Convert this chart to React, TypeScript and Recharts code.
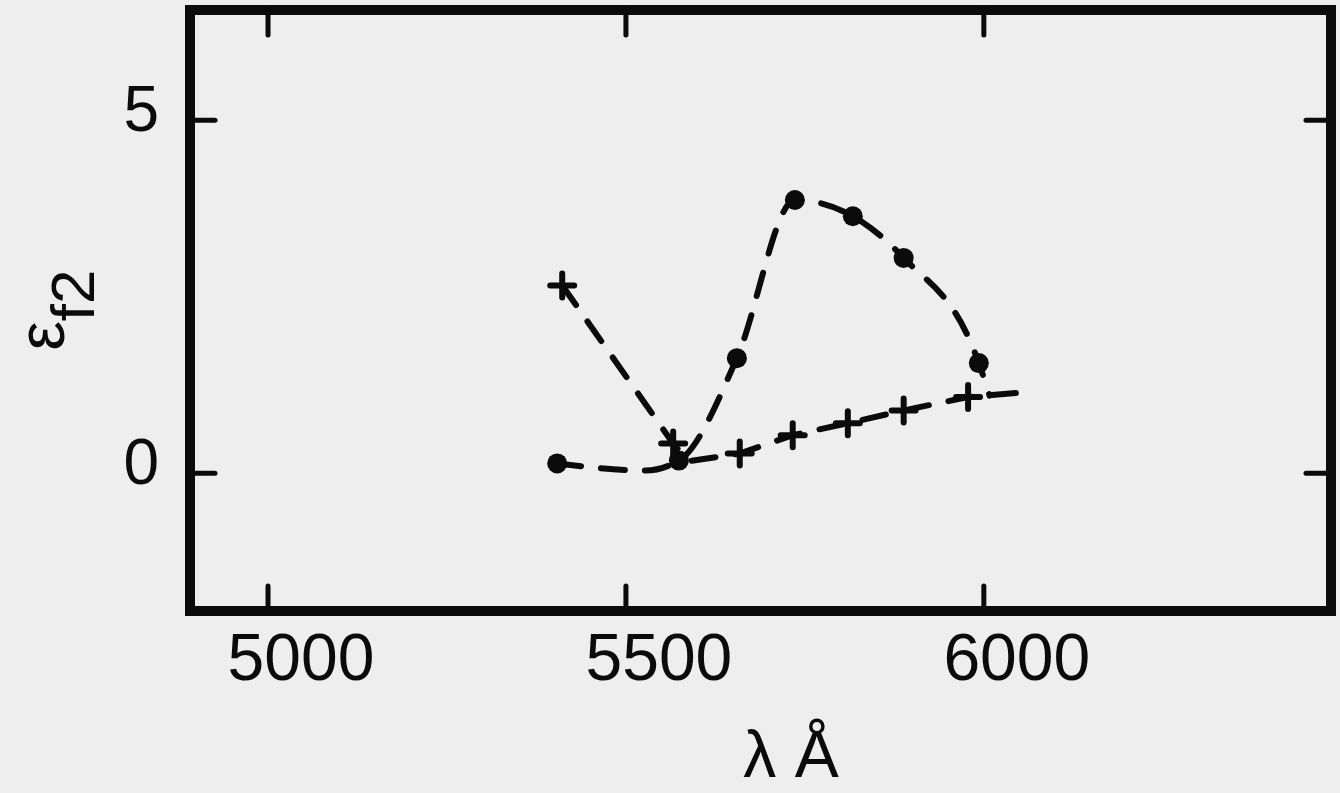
import React from "react";
import { ComposedChart, Line, XAxis, YAxis, Label } from "recharts";

// ─── Data ────────────────────────────────────────────────────────────────────

const lambdaTicks = [5000, 5500, 6000];
const epsTicks = [0, 5];

// filled circles — last point / the dip are only where the dashed curve runs
const dotLambda = [5404, 5527, 5574, 5655, 5736, 5817, 5888, 5993, 6008];
const dotEps = [0.14, 0.04, 0.18, 1.63, 3.87, 3.64, 3.05, 1.56, 1.1];
const dotMarked = [true, false, true, true, true, true, true, true, false];

// crosses
const crossLambda = [5411, 5566, 5587, 5659, 5733, 5810, 5888, 5978, 6059];
const crossEps = [2.66, 0.42, 0.17, 0.28, 0.54, 0.71, 0.89, 1.08, 1.15];
const crossMarked = [true, true, false, true, true, true, true, true, false];

const dotData = dotLambda.map((l, i) => ({ lambda: l, eps: dotEps[i], marked: dotMarked[i] }));
const crossData = crossLambda.map((l, i) => ({ lambda: l, eps: crossEps[i], marked: crossMarked[i] }));

// ─── Styling ─────────────────────────────────────────────────────────────────

const INK = "#0b0b0b";
const BG = "#eeeeee";
const FONT = "'Liberation Sans', Arial, sans-serif";
const TICK_LEN = 25;
const frame = { stroke: INK, strokeWidth: 10, strokeLinecap: "square" as const };
const dash = "24 20";

// ─── Ticks (drawn inward, labels offset like the original lettering) ───────

const BottomTick = ({ x, y, payload }: any) => (
  <g>
    <line x1={x} y1={y} x2={x} y2={y - TICK_LEN} stroke={INK} strokeWidth={5} strokeLinecap="round" />
    <text x={x + 33} y={y + 69} textAnchor="middle" fontSize={66} fontFamily={FONT} fill={INK}>
      {payload.value}
    </text>
  </g>
);

const TopTick = ({ x, y }: any) => (
  <line x1={x} y1={y} x2={x} y2={y + TICK_LEN} stroke={INK} strokeWidth={5} strokeLinecap="round" />
);

const LeftTick = ({ x, y, payload }: any) => (
  <g>
    <line x1={x} y1={y} x2={x + TICK_LEN} y2={y} stroke={INK} strokeWidth={5} strokeLinecap="round" />
    <text x={x - 31} y={y + 11} textAnchor="end" fontSize={64} fontFamily={FONT} fill={INK}>
      {payload.value}
    </text>
  </g>
);

const RightTick = ({ x, y }: any) => (
  <line x1={x} y1={y} x2={x - TICK_LEN} y2={y} stroke={INK} strokeWidth={5} strokeLinecap="round" />
);

// ─── Markers ─────────────────────────────────────────────────────────────────

const circleMark = (props: any) => {
  const { cx, cy, payload, index } = props;
  if (!payload.marked) return <g key={`c${index}`} />;
  return <circle key={`c${index}`} cx={cx} cy={cy} r={10} fill={INK} />;
};

const crossMark = (props: any) => {
  const { cx, cy, payload, index } = props;
  if (!payload.marked) return <g key={`x${index}`} />;
  return (
    <path
      key={`x${index}`}
      d={`M${cx - 12},${cy} H${cx + 12} M${cx},${cy - 12} V${cy + 12}`}
      stroke={INK}
      strokeWidth={6}
      strokeLinecap="round"
      fill="none"
    />
  );
};

// ─── Axis titles ─────────────────────────────────────────────────────────────

const YTitle = ({ viewBox }: any) => {
  const x = viewBox.x + 64;
  const y = 310;
  return (
    <text
      x={x}
      y={y}
      transform={`rotate(-90, ${x}, ${y})`}
      textAnchor="middle"
      fontFamily={FONT}
      fill={INK}
    >
      <tspan fontSize={66}>ε</tspan>
      <tspan fontSize={62} dy={30}>f2</tspan>
    </text>
  );
};

const XTitle = ({ viewBox }: any) => (
  <text
    x={viewBox.x + 601}
    y={viewBox.y + 166}
    textAnchor="middle"
    fontSize={66}
    fontFamily={FONT}
    fill={INK}
  >
    λ Å
  </text>
);

// ─── Chart ───────────────────────────────────────────────────────────────────

export default function App() {
  return (
    <div style={{ position: "absolute", left: 0, top: 0, width: 1340, height: 793, background: BG }}>
      <ComposedChart width={1340} height={793} margin={{ top: 0, right: 0, bottom: 0, left: 0 }}>
        <XAxis
          xAxisId={0}
          dataKey="lambda"
          type="number"
          domain={[4891, 6485]}
          ticks={lambdaTicks}
          allowDataOverflow
          height={182}
          axisLine={frame}
          tickLine={false}
          tickSize={0}
          tickMargin={0}
          tick={<BottomTick />}
        >
          <Label content={<XTitle />} />
        </XAxis>
        <XAxis
          xAxisId="top"
          orientation="top"
          dataKey="lambda"
          type="number"
          domain={[4891, 6485]}
          ticks={lambdaTicks}
          allowDataOverflow
          height={10}
          axisLine={frame}
          tickLine={false}
          tickSize={0}
          tickMargin={0}
          tick={<TopTick />}
        />
        <YAxis
          yAxisId={0}
          type="number"
          domain={[-1.95, 6.56]}
          ticks={epsTicks}
          allowDataOverflow
          width={190}
          axisLine={frame}
          tickLine={false}
          tickSize={0}
          tickMargin={0}
          tick={<LeftTick />}
        >
          <Label content={<YTitle />} />
        </YAxis>
        <YAxis
          yAxisId="right"
          orientation="right"
          type="number"
          domain={[-1.95, 6.56]}
          ticks={epsTicks}
          allowDataOverflow
          width={9}
          axisLine={frame}
          tickLine={false}
          tickSize={0}
          tickMargin={0}
          tick={<RightTick />}
        />

        <Line
          data={crossData}
          dataKey="eps"
          type="linear"
          stroke={INK}
          strokeWidth={6}
          strokeDasharray={dash}
          strokeLinecap="round"
          dot={crossMark}
          activeDot={false}
          isAnimationActive={false}
        />
        <Line
          data={dotData}
          dataKey="eps"
          type="monotone"
          stroke={INK}
          strokeWidth={6}
          strokeDasharray={dash}
          strokeLinecap="round"
          dot={circleMark}
          activeDot={false}
          isAnimationActive={false}
        />
      </ComposedChart>
    </div>
  );
}
